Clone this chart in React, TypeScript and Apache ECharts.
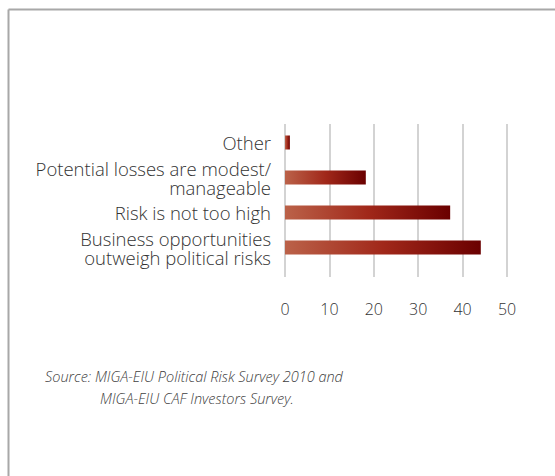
import React, { useEffect, useRef } from "react";
import * as echarts from "echarts";

const categories = [
  "Other",
  "Potential losses are modest/\nmanageable",
  "Risk is not too high",
  "Business opportunities\noutweigh political risks",
];
const values = [1.1, 18.2, 37.2, 44.1];
const xTicks = [0, 10, 20, 30, 40, 50];
const sourceLines = [
  "Source: MIGA-EIU Political Risk Survey 2010 and",
  "MIGA-EIU CAF Investors Survey.",
];

export default function App() {
  const ref = useRef<HTMLDivElement>(null);
  useEffect(() => {
    if (!ref.current) return;
    const chart = echarts.init(ref.current, null, { renderer: "svg" });
    const font = "Open Sans";
    const barGradient = new echarts.graphic.LinearGradient(0, 0, 1, 0, [
      { offset: 0, color: "#bb6249" },
      { offset: 0.5, color: "#a1281a" },
      { offset: 1, color: "#6a0000" },
    ]);
    chart.setOption({
      animation: false,
      backgroundColor: "#ffffff",
      grid: [
        { left: 285, right: 48, top: 124, height: 153 },
        { left: 285, right: 48, top: 125, height: 140 },
      ],
      xAxis: [
        {
          type: "value",
          gridIndex: 0,
          min: xTicks[0],
          max: xTicks[xTicks.length - 1],
          interval: 10,
          axisLine: { show: false },
          axisTick: { show: false },
          splitLine: { show: true, lineStyle: { color: "#c4c4c4", width: 1.5 } },
          axisLabel: {
            margin: 24,
            color: "#333333",
            fontSize: 16,
            fontFamily: font,
            fontWeight: 300,
          },
        },
        {
          type: "value",
          gridIndex: 1,
          min: xTicks[0],
          max: xTicks[xTicks.length - 1],
          interval: 10,
          show: false,
          splitLine: { show: false },
        },
      ],
      yAxis: [
        {
          type: "category",
          gridIndex: 0,
          data: categories,
          show: false,
        },
        {
          type: "category",
          gridIndex: 1,
          data: categories,
          inverse: true,
          axisLine: { show: false },
          axisTick: { show: false },
          splitLine: { show: false },
          axisLabel: {
            margin: 14,
            color: "#333333",
            fontSize: 18.5,
            lineHeight: 19,
            fontFamily: font,
            fontWeight: 300,
            align: "right",
          },
        },
      ],
      series: [
        {
          type: "bar",
          xAxisIndex: 1,
          yAxisIndex: 1,
          data: values,
          barWidth: 14,
          itemStyle: { color: barGradient },
        },
      ],
      graphic: [
        {
          type: "line",
          shape: { x1: 8.5, y1: 9.5, x2: 555, y2: 9.5 },
          style: { stroke: "#a8a8a8", lineWidth: 2 },
        },
        {
          type: "line",
          shape: { x1: 8.5, y1: 9.5, x2: 8.5, y2: 476 },
          style: { stroke: "#a8a8a8", lineWidth: 2 },
        },
        {
          type: "text",
          x: 45,
          y: 376,
          style: {
            text: sourceLines[0],
            fontSize: 14.5,
            fontStyle: "italic",
            fontWeight: 300,
            fontFamily: font,
            fill: "#404040",
            verticalAlign: "middle",
          },
        },
        {
          type: "text",
          x: 100,
          y: 398,
          style: {
            text: sourceLines[1],
            fontSize: 14.5,
            fontStyle: "italic",
            fontWeight: 300,
            fontFamily: font,
            fill: "#404040",
            verticalAlign: "middle",
          },
        },
      ],
    });
    return () => chart.dispose();
  }, []);
  return (
    <div
      ref={ref}
      style={{ position: "fixed", left: 0, top: 0, width: 555, height: 476 }}
    />
  );
}
